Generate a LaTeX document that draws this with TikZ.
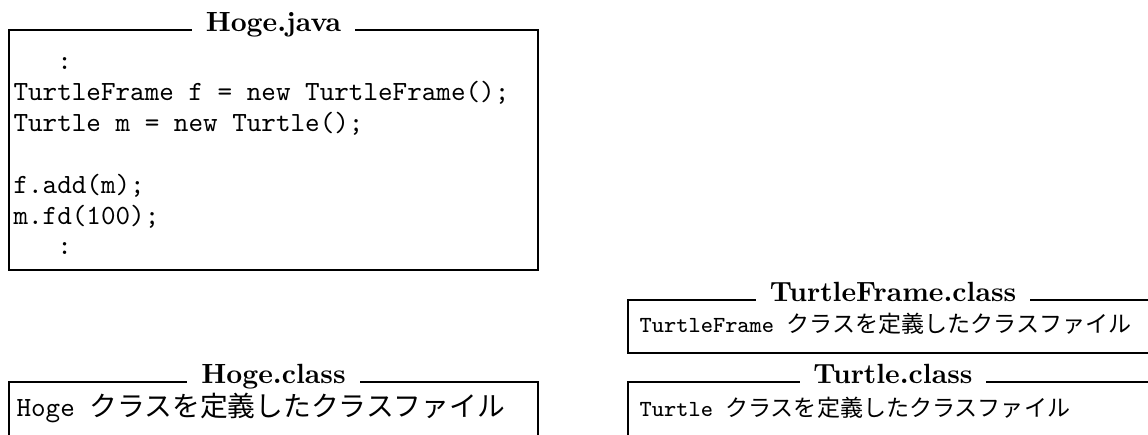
\documentclass[tikz,border=0pt]{standalone}
\usepackage{fontspec}
\newfontfamily\jafont{Noto Sans CJK JP}
\usetikzlibrary{fit}
\tikzset{
	filebox/.style={draw, rectangle, inner sep=0pt},
	filetitle/.style={fill=white, inner xsep=5pt, inner ysep=1.5pt, anchor=base, font=\bfseries},
	filetext/.style={anchor=base west, inner sep=0pt, font=\ttfamily},
	classtext/.style={filetext, font=\ttfamily\fontsize{8.3}{10}\selectfont},
	codetext/.style={anchor=north west, inner sep=0pt, align=left, font={\ttfamily\baselineskip=11.1pt}}
}
\begin{document}
\begin{tikzpicture}[x=0.36pt, y=-0.36pt]
		\useasboundingbox (0,0) rectangle (1148,434);
		\clip (0,0) rectangle (1148,434);
		% source file
		\node[filebox, fit={(9,30) (538,270)}] (FILE_JAVA) {};
		\node[filetitle] (TITLE_JAVA) at ([yshift=-0.6pt]FILE_JAVA.north) {Hoge.java};
		\node[codetext] (CODE_JAVA) at (13,46) {
			\strut\hphantom{mmm}:\\
			TurtleFrame f = new TurtleFrame();\\
			Turtle m = new Turtle();\\
			\mbox{}\\
			f.add(m);\\
			m.fd(100);\\
			\hphantom{mmm}:
		};
		% class files
		\node[filebox, fit={(9,382) (538,470)}] (FILE_HOGE) {};
		\node[filetitle] (TITLE_HOGE) at ([yshift=-0.6pt]FILE_HOGE.north) {Hoge.class};
		\node[filetext] (TEXT_HOGE) at (16,416) {Hoge {\jafont クラスを定義したクラスファイル}};
		\node[filebox, fit={(628,300) (1158,353)}] (FILE_FRAME) {};
		\node[filetitle] (TITLE_FRAME) at ([yshift=-0.6pt]FILE_FRAME.north) {TurtleFrame.class};
		\node[classtext] (TEXT_FRAME) at (639,332) {TurtleFrame {\jafont クラスを定義したクラスファイル}};
		\node[filebox, fit={(628,382) (1158,470)}] (FILE_TURTLE) {};
		\node[filetitle] (TITLE_TURTLE) at ([yshift=-0.6pt]FILE_TURTLE.north) {Turtle.class};
		\node[classtext] (TEXT_TURTLE) at (639,416) {Turtle {\jafont クラスを定義したクラスファイル}};
\end{tikzpicture}
\end{document}
